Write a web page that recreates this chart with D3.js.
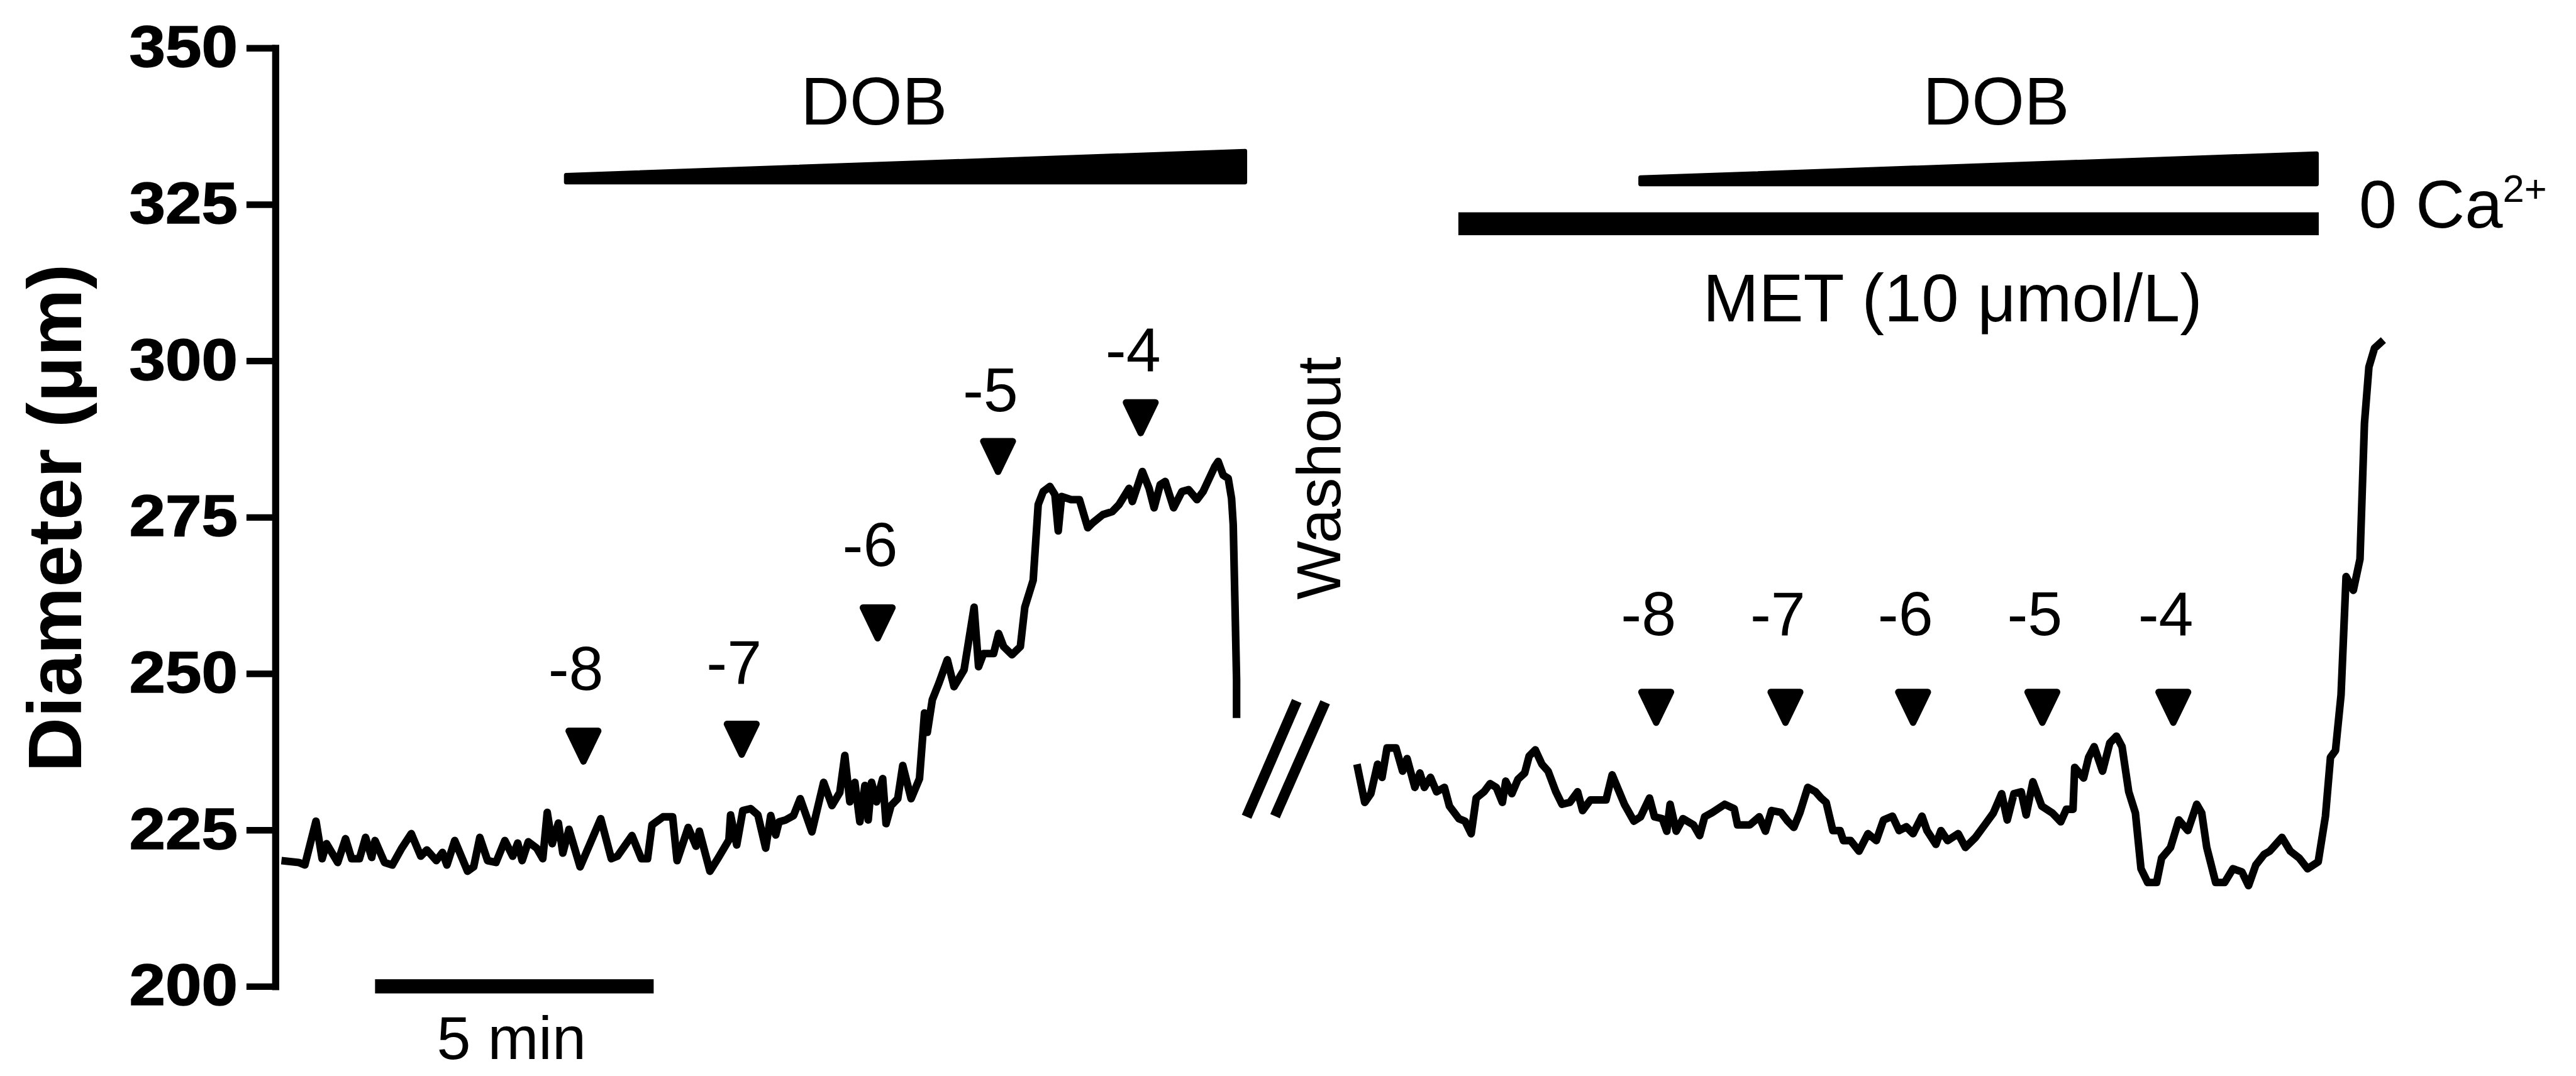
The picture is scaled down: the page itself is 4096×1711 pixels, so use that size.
<!DOCTYPE html>
<html><head><meta charset="utf-8">
<script src="https://cdn.jsdelivr.net/npm/d3@7"></script>
<style>html,body{margin:0;padding:0;background:#fff;overflow:hidden}svg{display:block}</style>
</head><body>
<svg id="chart" width="4096" height="1711"></svg>
<script>
// ---------------- DATA ----------------
// time in minutes (display time, washout gap between the two traces), diameter in µm
const leftTime = [0.06,0.37,0.48,0.68,0.79,0.87,1.07,1.21,1.32,1.46,1.57,1.68,1.74,1.91,2.05,2.22,2.39,2.56,2.67,2.84,2.95,3.03,3.17,3.40,3.51,3.62,3.76,3.91,4.07,4.21,4.30,4.38,4.49,4.64,4.75,4.83,4.92,5.03,5.11,5.22,5.42,5.53,5.79,5.98,6.09,6.35,6.52,6.63,6.71,6.91,7.08,7.16,7.36,7.50,7.56,7.75,7.89,8.09,8.12,8.23,8.34,8.48,8.61,
  8.75,8.84,8.93,8.99,9.11,9.25,9.37,9.58,9.79,9.94,10.08,10.17,10.26,10.35,10.44,10.53,10.59,10.65,10.74,10.85,10.91,11.00,11.12,11.21,11.36,11.51,11.60,11.65,11.74,11.86,12.01,12.13,12.31,12.49,12.57,12.66,12.84,12.93,13.02,13.17,13.32,13.40,13.55,13.64,13.73,13.85,13.94,14.00,14.06,14.23,14.38,14.53,14.62,14.80,14.97,15.09,15.27,15.33,15.45,15.51,15.63,15.72,15.83,15.92,16.07,16.22,16.34,16.49,16.60,16.81,16.87,16.96,17.05,17.11,17.14,17.17,17.20,17.20];
const leftDiameter = [220.1,219.8,219.4,226.4,220.4,222.8,219.8,223.6,220.4,220.4,223.8,220.6,223.3,219.8,219.4,222.1,224.4,220.8,221.8,220.1,221.4,219.4,223.3,218.4,219.1,223.8,220.1,219.8,223.3,220.8,222.9,220.1,223.1,222.1,220.4,227.8,222.8,226.1,221.3,225.1,219.1,221.4,226.8,220.4,220.8,224.1,220.4,220.4,225.8,227.1,227.1,220.1,225.4,222.4,224.8,218.4,220.4,223.4,227.4,222.6,228.1,228.4,227.4,
  222.1,227.3,224.2,226.3,226.6,227.3,230.0,224.7,232.6,228.9,231.0,236.9,229.5,232.6,226.3,232.1,226.6,232.6,229.5,233.2,226.0,228.9,230.0,235.3,230.0,233.2,243.7,240.6,245.8,248.5,252.2,247.9,250.6,260.6,251.1,253.2,253.2,256.4,254.3,253.0,254.3,260.6,264.9,277.0,279.1,279.9,278.6,272.8,278.3,277.8,277.8,273.3,274.1,275.4,275.9,277.0,279.6,277.5,280.7,282.3,279.6,276.5,280.2,280.7,276.5,279.1,279.4,277.8,279.1,283.1,283.9,281.7,281.2,278.0,273.8,261.7,249.0,242.9];

const rightTime = [19.36,19.50,19.61,19.73,19.81,19.90,20.06,20.18,20.26,20.40,20.49,20.57,20.68,20.79,20.93,21.02,21.19,21.30,21.41,21.50,21.64,21.75,21.86,21.97,22.03,22.14,22.25,22.37,22.45,22.56,22.68,22.79,22.93,23.04,23.18,23.32,23.41,23.55,23.72,23.83,23.94,24.16,24.33,24.45,24.61,24.70,24.84,24.92,24.98,25.09,25.21,25.40,25.51,25.60,25.74,25.96,26.13,26.19,26.41,26.58,26.69,26.80,26.97,27.09,27.20,27.31,27.45,27.59,27.69,
  27.78,27.90,28.03,28.09,28.22,28.37,28.53,28.68,28.81,28.97,29.09,29.22,29.34,29.50,29.59,29.75,29.84,29.96,30.15,30.28,30.46,30.65,30.78,30.93,31.03,31.15,31.28,31.37,31.49,31.65,31.84,31.99,32.09,32.21,32.24,32.40,32.49,32.59,32.74,32.87,32.99,33.09,33.21,33.33,33.43,33.55,33.71,33.80,33.96,34.11,34.27,34.43,34.52,34.61,34.77,34.93,35.08,35.24,35.36,35.49,35.64,35.74,35.96,36.11,36.27,36.42,36.61,36.74,36.83,36.92,37.02,37.11,37.24,37.36,37.44,37.52,37.62,37.78];
const rightDiameter = [235.5,229.4,230.8,235.5,233.4,238.1,238.1,234.4,236.4,231.8,234.1,231.8,233.4,231.1,231.8,228.8,226.8,226.4,224.4,230.1,231.1,232.4,231.8,229.4,232.8,230.8,233.1,234.1,236.8,237.8,235.5,234.4,231.1,229.1,229.4,231.1,228.1,229.8,229.8,229.8,233.8,229.1,226.4,227.1,230.1,227.1,226.8,224.8,229.1,224.8,226.8,225.8,224.1,227.1,227.8,229.1,228.4,225.8,225.8,227.1,224.8,228.1,227.8,226.4,225.4,227.8,231.8,231.1,230.1,
  229.4,224.9,224.9,223.3,223.3,221.6,224.4,223.3,226.6,227.2,224.9,225.5,224.4,227.2,224.9,222.7,224.9,223.3,224.4,222.2,223.8,226.1,227.7,230.8,226.6,230.8,231.1,227.4,232.7,228.8,227.7,226.3,228.3,228.3,235.0,233.3,236.6,238.3,234.4,238.9,240.0,238.3,231.1,227.7,218.8,216.6,216.6,220.5,222.2,226.6,224.9,229.1,227.7,222.2,216.6,216.6,218.8,218.3,216.1,219.4,221.1,221.6,223.8,221.6,220.5,218.8,219.9,227.2,236.6,237.7,246.6,265.5,263.3,268.3,290.0,299.0,302.0,303.3];

const yTicks = [200, 225, 250, 275, 300, 325, 350];

// concentration markers (log mol/L)
const leftDoses = ["-8", "-7", "-6", "-5", "-4"];
const leftDoseTime = [5.48, 8.32, 10.76, 12.92, 15.48];
const leftMarkerLevel = [238.4, 239.5, 258.1, 284.7, 290.9];
const leftLabelLevel = [247.4, 248.4, 267.2, 291.9, 298.4];
const rightDoses = ["-8", "-7", "-6", "-5", "-4"];
const rightDoseTime = [24.73, 27.05, 29.34, 31.66, 34.01];
const rightMarkerLevel = [244.6, 244.6, 244.6, 244.6, 244.6];
const rightLabelLevel = [256.1, 256.1, 256.1, 256.1, 256.1];

// application bars (start, end in minutes; level in µm)
const dobLeftSpan = [5.13, 17.39];
const dobRightSpan = [24.41, 36.62];
const metSpan = [21.18, 36.62];
const dobLeftLevel = 328.2, dobRightLevel = 327.9, metLevel = 321.9;
const scaleBarSpan = [1.74, 6.74];   // 5 min
// break mark (two slashes): [t0, d0, t1, d1]
const breakSlashes = [[17.38, 227.1, 18.28, 245.6], [17.89, 227.2, 18.79, 245.4]];

// ---------------- LAYOUT ----------------
const S = 0.867;
const FONT = "'Liberation Sans', Arial, Helvetica, sans-serif";
const svg = d3.select("#chart");
svg.append("rect").attr("width", 4096).attr("height", 1711).attr("fill", "#fff");

const x = d3.scaleLinear().domain([0, 40]).range([510 * S, (510 + 40 * 102.2) * S]);
const y = d3.scaleLinear().domain([200, 350]).range([1809 * S, 88 * S]);

// y axis
const axis = d3.axisLeft(y).tickValues(yTicks).tickSize(53 * S).tickPadding(16 * S)
  .tickSizeOuter(0).tickFormat(d3.format("d"));
const gAxis = svg.append("g").attr("transform", `translate(${505 * S},0)`).call(axis);
gAxis.select(".domain").attr("stroke", "#000").attr("stroke-width", 13 * S).attr("stroke-linecap", "square");
gAxis.selectAll(".tick line").attr("stroke", "#000").attr("stroke-width", 12 * S);
gAxis.selectAll(".tick text")
  .attr("font-family", FONT).attr("font-weight", "bold").attr("font-size", 106 * S)
  .attr("fill", "#000").attr("stroke", "#000").attr("stroke-width", 1.5)
  .attr("textLength", 199 * S).attr("lengthAdjust", "spacingAndGlyphs");

svg.append("text")
  .attr("transform", `translate(${149 * S},${950 * S}) rotate(-90)`)
  .attr("text-anchor", "middle").attr("font-family", FONT).attr("font-weight", "bold")
  .attr("font-size", 140 * S).attr("textLength", 932 * S).attr("lengthAdjust", "spacingAndGlyphs")
  .text("Diameter (\u03bcm)");

// traces
const line = d3.line().x(d => x(d[0])).y(d => y(d[1]));
[[leftTime, leftDiameter], [rightTime, rightDiameter]].forEach(([t, v]) => {
  svg.append("path").datum(d3.zip(t, v)).attr("d", line)
    .attr("fill", "none").attr("stroke", "#000").attr("stroke-width", 14 * S)
    .attr("stroke-linejoin", "round").attr("stroke-linecap", "butt");
});

// break mark
svg.selectAll(".slash").data(breakSlashes).join("line").attr("class", "slash")
  .attr("x1", d => x(d[0])).attr("y1", d => y(d[1]))
  .attr("x2", d => x(d[2])).attr("y2", d => y(d[3]))
  .attr("stroke", "#000").attr("stroke-width", 19 * S);

// wedges (increasing DOB)
function wedge(span, level, h0, h1) {
  const r = 8 * S / 2;
  const x0 = x(span[0]) + r, x1 = x(span[1]) - r, yb = y(level) - r;
  const p = d3.path();
  p.moveTo(x0, yb); p.lineTo(x1, yb); p.lineTo(x1, yb - (h1 - 2 * r)); p.lineTo(x0, yb - (h0 - 2 * r)); p.closePath();
  svg.append("path").attr("d", p.toString()).attr("fill", "#000").attr("stroke", "#000")
    .attr("stroke-width", 8 * S).attr("stroke-linejoin", "round");
}
wedge(dobLeftSpan, dobLeftLevel, 21 * S, 65 * S);
wedge(dobRightSpan, dobRightLevel, 20 * S, 64 * S);

// MET bar
svg.append("rect").attr("x", x(metSpan[0])).attr("width", x(metSpan[1]) - x(metSpan[0]))
  .attr("y", y(metLevel) - 21 * S).attr("height", 42 * S).attr("fill", "#000");

// scale bar
svg.append("rect").attr("x", x(scaleBarSpan[0])).attr("width", x(scaleBarSpan[1]) - x(scaleBarSpan[0]))
  .attr("y", y(200) - 13 * S).attr("height", 26 * S).attr("fill", "#000");

// markers
const triW = 54 * S, triH = 56 * S;
function markers(times, levels, labelLevels, labels) {
  const g = svg.append("g");
  times.forEach((t, i) => {
    const cx = x(t), cy = y(levels[i]);
    g.append("path")
      .attr("d", `M${cx - triW / 2},${cy - triH / 2}L${cx + triW / 2},${cy - triH / 2}L${cx},${cy + triH / 2}Z`)
      .attr("fill", "#000").attr("stroke", "#000").attr("stroke-width", 12 * S).attr("stroke-linejoin", "round");
    g.append("text").attr("x", cx - 14 * S).attr("y", y(labelLevels[i]))
      .attr("text-anchor", "middle").attr("font-family", FONT).attr("font-size", 114 * S)
      .text(labels[i]);
  });
}
markers(leftDoseTime, leftMarkerLevel, leftLabelLevel, leftDoses);
markers(rightDoseTime, rightMarkerLevel, rightLabelLevel, rightDoses);

// texts
function label(txt, xx, yy, size, anchor) {
  return svg.append("text").attr("x", xx).attr("y", yy).attr("text-anchor", anchor || "middle")
    .attr("font-family", FONT).attr("font-size", size).text(txt);
}
label("DOB", 1603 * S, 228 * S, 124 * S);
label("DOB", 3661 * S, 228 * S, 124 * S);
label("MET (10 \u03bcmol/L)", 3581 * S, 589 * S, 123 * S);
label("5 min", 938 * S, 1942 * S, 112 * S);
const ca = label("0 Ca", 4326 * S, 417 * S, 125 * S, "start");
ca.append("tspan").attr("font-size", 71 * S).attr("dy", -47 * S).text("2+");

svg.append("text")
  .attr("transform", `translate(${2458 * S},${877 * S}) rotate(-90)`)
  .attr("text-anchor", "middle").attr("font-family", FONT).attr("font-size", 114 * S)
  .text("Washout");
</script>
</body></html>
